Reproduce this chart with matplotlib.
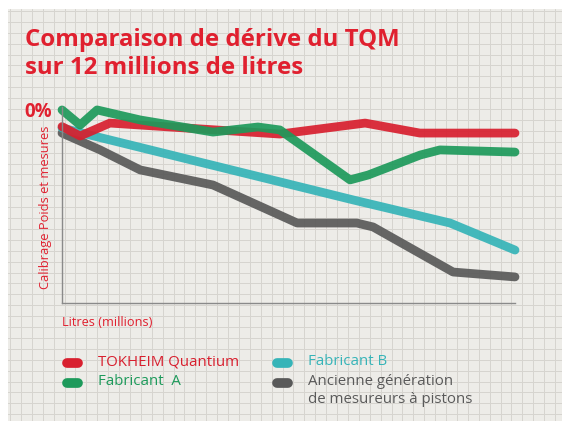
import numpy as np
import matplotlib
matplotlib.use("Agg")
import matplotlib.pyplot as plt
from matplotlib.lines import Line2D

W, H = 562, 421

# data (x in millions of litres, y = drift, arbitrary units, 0 at top)
series = ["TOKHEIM Quantium", "Fabricant  A", "Fabricant B",
          "Ancienne génération\nde mesureurs à pistons"]
colors = ["#d81f2e", "#1d9a5b", "#36b4b8", "#595959"]

red_x = [0, 0.48, 1.27, 2.86, 5.77, 8.03, 9.48, 12]
red_y = [-0.10, -0.148, -0.082, -0.102, -0.138, -0.082, -0.133, -0.133]

green_x = [0, 0.48, 0.93, 2.07, 4.0, 5.19, 5.77, 7.63, 8.11, 9.49, 10.01, 12]
green_y = [-0.015, -0.092, -0.015, -0.066, -0.128, -0.102, -0.117, -0.372, -0.347,
           -0.245, -0.219, -0.230]

cyan_x = [0, 0.74, 7.71, 10.28, 12]
cyan_y = [-0.107, -0.143, -0.474, -0.592, -0.730]

gray_x = [0, 1.01, 2.07, 4.0, 6.23, 7.81, 8.24, 10.36, 12]
gray_y = [-0.133, -0.219, -0.321, -0.398, -0.592, -0.592, -0.612, -0.842, -0.867]

fig = plt.figure(figsize=(W / 100, H / 100), dpi=100)
fig.patch.set_facecolor("white")

# graph paper background
bg = fig.add_axes([8 / W, 0, (W - 8) / W, (H - 9) / H])
bg.set_facecolor("#edece8")
bg.set_xlim(0, W - 8)
bg.set_ylim(0, H - 9)
step = 10.9
for gx in np.arange(2, W, step):
    bg.axvline(gx, color="#d6d4cf", lw=0.7)
for gy in np.arange(H - 9 - 2, 0, -step):
    bg.axhline(gy, color="#d6d4cf", lw=0.7)
bg.set_xticks([])
bg.set_yticks([])
for s in bg.spines.values():
    s.set_visible(False)

ax = fig.add_axes([62 / W, (H - 303) / H, 453 / W, 196 / H])
ax.patch.set_alpha(0)
ax.set_xlim(0, 12)
ax.set_ylim(-1, 0)
for s in ["top", "right"]:
    ax.spines[s].set_visible(False)
for s in ["left", "bottom"]:
    ax.spines[s].set_color("#8a8a8a")
    ax.spines[s].set_linewidth(1)
ax.set_xticks([])
ax.set_yticks([])

lw = 6.3
data = [(red_x, red_y), (green_x, green_y), (cyan_x, cyan_y), (gray_x, gray_y)]
order = [3, 2, 0, 1]
for i in order:
    xs, ys = data[i]
    ax.plot(xs, ys, color=colors[i], lw=lw, solid_capstyle="round",
            solid_joinstyle="round", clip_on=False, alpha=0.92)

red = "#e0202f"
fig.text(25 / W, 1 - 28 / H, "Comparaison de dérive du TQM\nsur 12 millions de litres",
         color=red, fontsize=17.3, fontweight="bold", family="Open Sans",
         va="top", ha="left", linespacing=1.25)
fig.text(24 / W, 1 - 112 / H, "0%", color=red, fontsize=13.5, fontweight="bold",
         family="Open Sans", va="center", ha="left")
fig.text(46 / W, 1 - 207 / H, "Calibrage Poids et mesures", color=red, fontsize=9.3,
         family="Open Sans", rotation=90, va="center", ha="center")
fig.text(62 / W, 1 - 322 / H, "Litres (millions)", color=red, fontsize=9.2,
         family="Open Sans", va="center", ha="left")

# legend
leg_pos = [(62, 363), (62, 383), (272, 363), (272, 383)]
for i, name in enumerate(series):
    lx, ly = leg_pos[i]
    fig.add_artist(Line2D([(lx + 5) / W, (lx + 16) / W], [1 - ly / H, 1 - ly / H],
                          transform=fig.transFigure, color=colors[i], lw=7,
                          solid_capstyle="round"))
    fig.text((lx + 36) / W, 1 - (ly - 9) / H, name, color=colors[i], fontsize=10.8,
             family="Open Sans", va="top", ha="left", linespacing=1.3)

fig.savefig("out.png", dpi=100)
